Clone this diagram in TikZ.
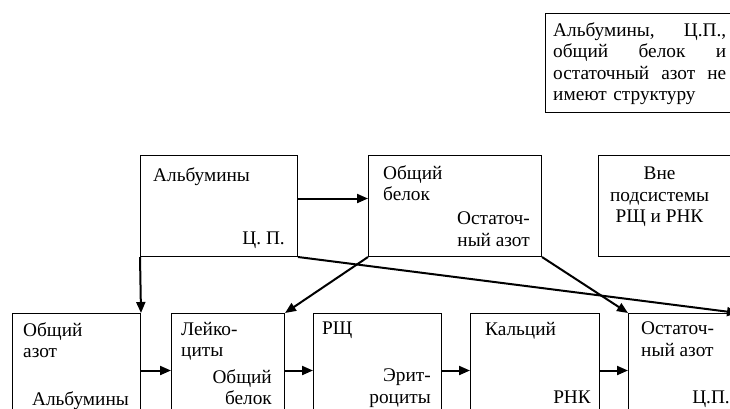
\documentclass[tikz,border=0pt]{standalone}
\usepackage{fontspec}
\setmainfont{Liberation Serif}
\usetikzlibrary{positioning,arrows.meta,calc}

\begin{document}
\begin{tikzpicture}[
  x=1pt, y=-1pt,
  font=\fontsize{19.3}{21.5}\selectfont,
  box/.style={draw, line width=1pt, inner sep=0pt, minimum height=101pt},
  lowbox/.style={draw, line width=1pt, inner sep=0pt, minimum height=114pt},
  arrow/.style={-{Triangle[length=11pt,width=9pt]}, line width=2pt},
  txt/.style={inner sep=0pt, align=left},
  rtxt/.style={inner sep=0pt, align=right}
]
\clip (0,0) rectangle (730,408);

% Note box (top right)
\node[draw, line width=1pt, inner sep=0pt, minimum width=188pt, minimum height=99pt,
  anchor=north west] (note) at (545,13) {};
\node[txt, text width=173pt, anchor=north west] (noteT) at ($(note.north west)+(8,9)$) {%
  Альбумины,\hfill Ц.П.,\\
  общий\hfill белок\hfill и\\
  остаточный\hfill азот\hfill не\\
  имеют структуру};

% Upper row
\node[box, minimum width=157pt, anchor=north west] (alb) at (140,155) {};
\node[box, minimum width=173pt, right=70pt of alb] (ob) {};
\node[box, minimum width=133pt, right=56pt of ob] (vne) {};

\node[txt, anchor=north west] (albT) at ($(alb.north west)+(13,12)$) {Альбумины};
\node[rtxt, anchor=north east] (albB) at ($(alb.north east)+(-13,77)$) {Ц. П.};
\node[txt, anchor=north west] (obT) at ($(ob.north west)+(15,10)$) {Общий\\белок};
\node[rtxt, anchor=north east] (obB) at ($(ob.north east)+(-12,57)$) {Остаточ-\\ный азот};
\node[inner sep=0pt, align=center, anchor=north] (vneT) at ($(vne.north)+(-5.5,12)$) {Вне\\подсистемы\\РЩ и РНК};

% Lower row
\node[lowbox, minimum width=128pt, anchor=north west] (oa) at (12,313) {};
\node[lowbox, minimum width=113pt, right=30pt of oa] (lk) {};
\node[lowbox, minimum width=128pt, right=28pt of lk] (rsch) {};
\node[lowbox, minimum width=129pt, right=28pt of rsch] (ca) {};
\node[lowbox, minimum width=109pt, right=28pt of ca] (ost) {};

\node[txt, anchor=north west] (oaT) at ($(oa.north west)+(11,9)$) {Общий\\азот};
\node[rtxt, anchor=north east] (oaB) at ($(oa.north east)+(-12,78)$) {Альбумины};
\node[txt, anchor=north west] (lkT) at ($(lk.north west)+(10,9)$) {Лейко-\\циты};
\node[rtxt, anchor=north east] (lkB) at ($(lk.north east)+(-13,56)$) {Общий\\белок};
\node[txt, anchor=north west] (rschT) at ($(rsch.north west)+(9,9)$) {РЩ};
\node[rtxt, anchor=north east] (rschB) at ($(rsch.north east)+(-11,56)$) {Эрит-\\роциты};
\node[txt, anchor=north west] (caT) at ($(ca.north west)+(15,9)$) {Кальций};
\node[rtxt, anchor=north east] (caB) at ($(ca.north east)+(-9,78)$) {РНК};
\node[txt, anchor=north west] (ostT) at ($(ost.north west)+(13,9)$) {Остаточ-\\ный азот};
\node[rtxt, anchor=north east] (ostB) at ($(ost.north west)+(102,78)$) {Ц.П.};

% Links between upper boxes and lower boxes
\draw[arrow] ([yshift=7.5pt]alb.east) -- ([yshift=7.5pt]ob.west);
\draw[arrow] (alb.south west) -- (oa.north east);
\draw[arrow] (ob.south west) -- (lk.north east);
\draw[arrow] (ob.south east) -- (ost.north west);
\draw[arrow] (alb.south east) -- (ost.north east);

% Chain along the lower row
\draw[arrow] (oa) -- (lk);
\draw[arrow] (lk) -- (rsch);
\draw[arrow] (rsch) -- (ca);
\draw[arrow] (ca) -- (ost);

\end{tikzpicture}
\end{document}
